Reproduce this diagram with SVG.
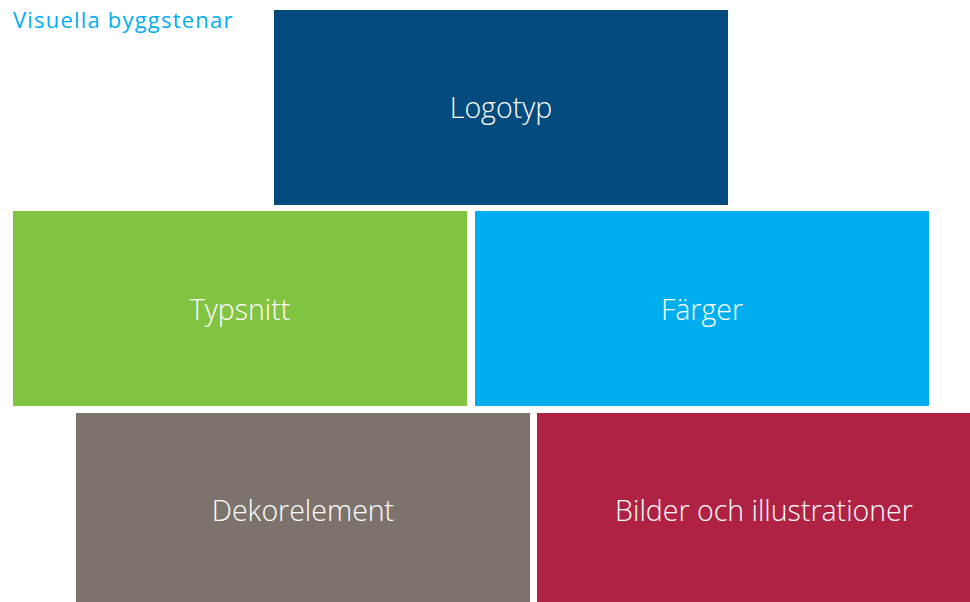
<svg xmlns="http://www.w3.org/2000/svg" width="970" height="602" viewBox="0 0 970 602">
<style>
.lbl{font-family:"Open Sans","Noto Sans","Liberation Sans",sans-serif;font-weight:300;font-size:28.5px;fill:#ffffff;text-anchor:middle}
.ttl{font-family:"Open Sans","Noto Sans","Liberation Sans",sans-serif;font-size:22px;letter-spacing:1.2px;fill:#00aeef}
</style>
<rect width="970" height="602" fill="#ffffff"/>
<text class="ttl" x="13" y="28">Visuella byggstenar</text>
<g id="logotyp"><rect x="274" y="10" width="454" height="195" fill="#034b7f"/><text class="lbl" x="501" y="118">Logotyp</text></g>
<g id="typsnitt"><rect x="13" y="211" width="454" height="195" fill="#82c341"/><text class="lbl" x="240" y="320">Typsnitt</text></g>
<g id="farger"><rect x="475" y="211" width="454" height="195" fill="#00aeef"/><text class="lbl" x="702" y="320">Färger</text></g>
<g id="dekorelement"><rect x="76" y="413" width="454" height="189" fill="#7d736d"/><text class="lbl" x="303" y="521">Dekorelement</text></g>
<g id="bilder"><rect x="537" y="413" width="433" height="189" fill="#b02244"/><text class="lbl" x="764" y="521">Bilder och illustrationer</text></g>
<g id="connectors"/>
</svg>
